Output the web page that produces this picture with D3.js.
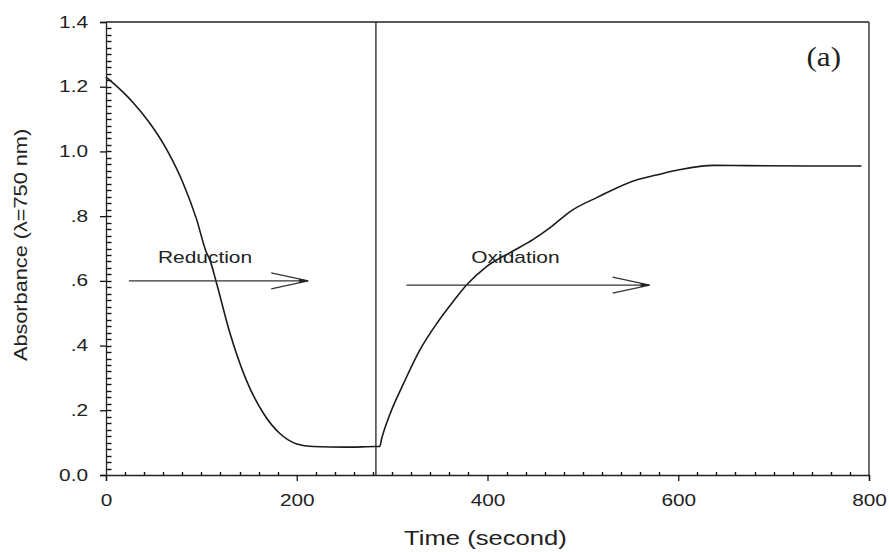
<!DOCTYPE html>
<html>
<head>
<meta charset="utf-8">
<script src="https://cdn.jsdelivr.net/npm/d3@7"></script>
<style>
  html, body { margin: 0; padding: 0; background: #fff; }
  svg { display: block; }
  text { font-family: "Liberation Sans", Arial, Helvetica, sans-serif; fill: #222; }
</style>
</head>
<body>
<svg id="chart" width="889" height="552"></svg>
<script>
// ---------- data ----------
const reductionTime = [0, 10, 20, 29, 46, 64, 81, 95, 105, 109, 116, 130, 147, 165, 182, 200, 217, 252, 283, 287];
const reductionAbs  = [1.23, 1.205, 1.177, 1.149, 1.087, 1.004, 0.901, 0.79, 0.69, 0.664, 0.592, 0.438, 0.294, 0.191, 0.129, 0.096, 0.088, 0.086, 0.088, 0.088];

const oxidationTime = [289, 298, 312, 329, 347, 364, 378, 399, 424, 448, 466, 487, 515, 556, 577, 602, 637, 672, 742, 792];
const oxidationAbs  = [0.112, 0.19, 0.283, 0.386, 0.469, 0.536, 0.587, 0.644, 0.688, 0.728, 0.765, 0.815, 0.858, 0.912, 0.927, 0.944, 0.957, 0.956, 0.955, 0.955];

const switchTime = 283;

const xTickValues = [0, 200, 400, 600, 800];
const xTickLabels = ["0", "200", "400", "600", "800"];
const yTickValues = [0, 0.2, 0.4, 0.6, 0.8, 1.0, 1.2, 1.4];
const yTickLabels = ["0.0", ".2", ".4", ".6", ".8", "1.0", "1.2", "1.4"];

const arrowLabels = ["Reduction", "Oxidation"];
const arrowStart  = [24, 315];
const arrowEnd    = [212, 570];
const arrowLevel  = [0.6, 0.587];
const labelTime   = [54.5, 383];
const labelLevel  = [0.655, 0.655];

const panelLabel = "(a)";
const xTitle = "Time (second)";
const yTitle = "Absorbance (\u03BB=750 nm)";

// ---------- layout ----------
const svg = d3.select("#chart");
const mLeft = 106, mRight = 869, mTop = 22, mBottom = 475;
const x = d3.scaleLinear().domain([0, 800]).range([mLeft, mRight]);
const y = d3.scaleLinear().domain([0, 1.4]).range([mBottom, mTop]);
const ink = "#222";

function stretch(sel, f) {
  sel.each(function () {
    const len = this.getComputedTextLength();
    d3.select(this).attr("textLength", len * f).attr("lengthAdjust", "spacingAndGlyphs");
  });
}

// frame top/right
svg.append("line").attr("x1", mLeft).attr("x2", mRight).attr("y1", mTop).attr("y2", mTop)
  .attr("stroke", ink).attr("stroke-width", 1.3);
svg.append("line").attr("x1", mRight).attr("x2", mRight).attr("y1", mTop).attr("y2", mBottom)
  .attr("stroke", ink).attr("stroke-width", 1.3);

// minor ticks (from tick value arrays through the scales)
const yMinor = d3.range(1, 70).map(i => +(i * 0.02).toFixed(2));
const xMinor = d3.range(1, 40).map(i => i * 20).filter(v => v % 200 !== 0);

const gyMinor = svg.append("g").attr("class", "yminor");
gyMinor.selectAll("line").data(yMinor).join("line")
  .attr("x1", mLeft).attr("x2", mLeft + 5.5)
  .attr("y1", d => Math.round(y(d)) + 0.5).attr("y2", d => Math.round(y(d)) + 0.5)
  .attr("stroke", "#111").attr("stroke-width", 1.4);

const gxMinor = svg.append("g").attr("class", "xminor");
gxMinor.selectAll("line").data(xMinor).join("line")
  .attr("x1", d => Math.round(x(d)) + 0.5).attr("x2", d => Math.round(x(d)) + 0.5)
  .attr("y1", mBottom).attr("y2", mBottom - 3)
  .attr("stroke", "#111").attr("stroke-width", 1.4);

// major axes
const gy = svg.append("g").attr("transform", `translate(${mLeft},0)`)
  .call(d3.axisLeft(y).tickValues(yTickValues).tickSize(6).tickPadding(12)
    .tickFormat((d, i) => yTickLabels[i]));
const gx = svg.append("g").attr("transform", `translate(0,${mBottom})`)
  .call(d3.axisBottom(x).tickValues(xTickValues).tickSize(6).tickPadding(14)
    .tickFormat((d, i) => xTickLabels[i]));

[gy, gx].forEach(g => {
  g.selectAll("line").attr("stroke", "#111").attr("stroke-width", 1.3);
  g.selectAll(".domain").attr("stroke", ink).attr("stroke-width", 1.3);
  g.selectAll("text").attr("font-size", 16).attr("fill", ink)
    .style("font-family", '"Liberation Sans", Arial, sans-serif');
  stretch(g.selectAll("text"), 1.3);
});

// switch line
svg.append("line")
  .attr("x1", x(switchTime)).attr("x2", x(switchTime))
  .attr("y1", y(1.4)).attr("y2", y(0))
  .attr("stroke", ink).attr("stroke-width", 1.3);

// curve
const pts = reductionTime.map((t, i) => [t, reductionAbs[i]])
  .concat(oxidationTime.map((t, i) => [t, oxidationAbs[i]]));
const line = d3.line().x(d => x(d[0])).y(d => y(d[1])).curve(d3.curveMonotoneX);
svg.append("path").datum(pts).attr("d", line)
  .attr("fill", "none").attr("stroke", "#1a1a1a").attr("stroke-width", 1.6)
  .attr("stroke-linejoin", "round");

// arrows + labels
arrowLabels.forEach((lab, i) => {
  const x0 = x(arrowStart[i]), x1 = x(arrowEnd[i]), yy = y(arrowLevel[i]);
  svg.append("line").attr("x1", x0).attr("x2", x1).attr("y1", yy).attr("y2", yy)
    .attr("stroke", "#333").attr("stroke-width", 1.2);
  svg.append("path")
    .attr("d", `M${x1 - 37},${yy - 8} L${x1},${yy} L${x1 - 37},${yy + 8}`)
    .attr("fill", "none").attr("stroke", "#333").attr("stroke-width", 1.2);
  svg.append("path")
    .attr("d", `M${x1},${yy} L${x1 - 9},${yy - 2} L${x1 - 9},${yy + 2} Z`)
    .attr("fill", "#222");
  const t = svg.append("text").attr("x", x(labelTime[i])).attr("y", y(labelLevel[i]))
    .attr("font-size", 17).text(lab);
  stretch(t, 1.23);
});

// panel label
const pl = svg.append("text").attr("x", x(734.5)).attr("y", y(1.265))
  .style("font-family", '"Liberation Serif", "Times New Roman", serif')
  .attr("font-size", 27).attr("fill", "#222").text(panelLabel);
stretch(pl, 1.15);

// axis titles
const xt = svg.append("text").attr("x", (mLeft + mRight) / 2 - 2).attr("y", 545)
  .attr("text-anchor", "middle").attr("font-size", 20.5).text(xTitle);
stretch(xt, 1.25);

const yt = svg.append("text").attr("transform", `translate(27,${245}) rotate(-90)`)
  .attr("text-anchor", "middle").attr("font-size", 17.5).text(yTitle);
stretch(yt, 1.24);
</script>
</body>
</html>
